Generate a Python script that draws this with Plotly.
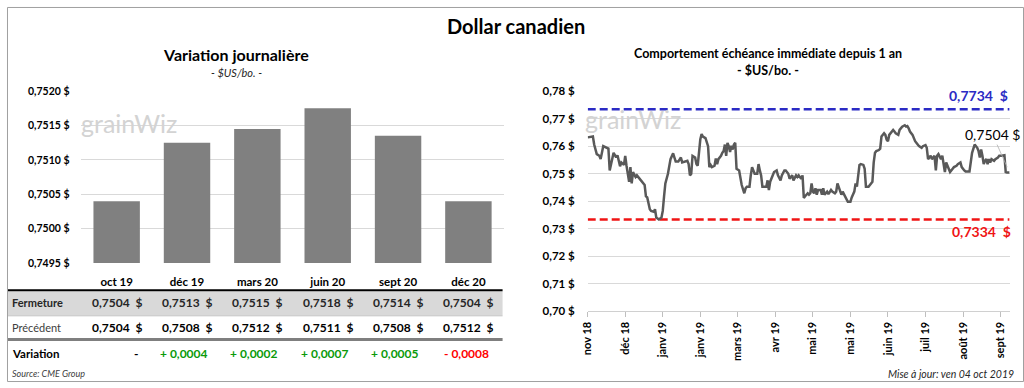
import plotly.graph_objects as go

# ---------------- DATA ----------------
months = ["oct 19", "déc 19", "mars 20", "juin 20", "sept 20", "déc 20"]
fermeture = [0.75040, 0.75125, 0.75145, 0.75175, 0.75135, 0.75040]
fermeture_txt = ["0,7504", "0,7513", "0,7515", "0,7518", "0,7514", "0,7504"]
precedent_txt = ["0,7504", "0,7508", "0,7512", "0,7511", "0,7508", "0,7512"]
variation_txt = ["-", "+ 0,0004", "+ 0,0002", "+ 0,0007", "+ 0,0005", "- 0,0008"]
variation_sign = [0, 1, 1, 1, 1, -1]

bar_ticks = [0.7495, 0.7500, 0.7505, 0.7510, 0.7515, 0.7520]
bar_ticktext = ["0,7495 $", "0,7500 $", "0,7505 $", "0,7510 $", "0,7515 $", "0,7520 $"]

# trading-day index and closing price (front month)
day = [0, 4, 5, 7, 9, 10, 12, 14, 16, 17, 19, 20, 22, 23, 25, 26, 28, 29, 30, 32,
       33, 34, 35, 37, 38, 40, 42, 44, 45, 46, 48, 49, 51, 52, 53, 55, 57, 58, 59, 60,
       62, 64, 66, 68, 70, 72, 73, 76, 77, 78, 79, 80, 81, 83, 84, 85, 87, 88, 89, 91,
       92, 93, 94, 95, 96, 98, 99, 100, 101, 103, 104, 105, 106, 107, 108, 109, 110, 111, 112, 113,
       114, 115, 117, 118, 119, 121, 122, 123, 125, 126, 127, 128, 129, 131, 132, 133, 134, 135, 137, 138,
       139, 140, 141, 143, 144, 146, 147, 149, 150, 152, 153, 155, 156, 158, 159, 161, 162, 163, 164, 165,
       166, 167, 168, 170, 171, 172, 173, 174, 175, 176, 177, 178, 180, 181, 182, 183, 185, 186, 188, 189,
       191, 192, 193, 195, 196, 197, 199, 200, 201, 203, 204, 206, 207, 208, 210, 211, 213, 214, 215, 217,
       218, 220, 221, 222, 223, 225, 226, 227, 229, 230, 231, 232, 233, 235, 236, 237, 238, 240, 241, 243,
       245, 246, 247, 248, 249, 251, 252, 253, 255, 256, 258, 259, 261, 262, 263, 265, 266, 268, 269, 270,
       271, 273, 274, 276, 277, 279, 280, 282, 283, 285, 286, 288, 289, 291, 292, 294, 295, 297, 298, 299,
       301, 302, 303, 304, 305, 306, 307, 308, 309, 310, 311, 312, 314, 315, 317, 318, 320, 322, 323, 324,
       326]
close = [0.7632, 0.7635, 0.7606, 0.7571, 0.7565, 0.7553, 0.7600, 0.7596, 0.7591, 0.7512, 0.7553, 0.7576, 0.7559, 0.7567, 0.7527, 0.7541, 0.7532, 0.7565, 0.7529, 0.7471,
         0.7524, 0.7465, 0.7506, 0.7488, 0.7494, 0.7482, 0.7471, 0.7459, 0.7418, 0.7414, 0.7371, 0.7365, 0.7362, 0.7371, 0.7341, 0.7334, 0.7341, 0.7365, 0.7418, 0.7465,
         0.7500, 0.7553, 0.7574, 0.7544, 0.7544, 0.7559, 0.7541, 0.7544, 0.7547, 0.7535, 0.7494, 0.7500, 0.7565, 0.7559, 0.7535, 0.7529, 0.7624, 0.7644, 0.7635, 0.7629,
         0.7612, 0.7600, 0.7524, 0.7532, 0.7524, 0.7529, 0.7555, 0.7535, 0.7553, 0.7565, 0.7576, 0.7582, 0.7606, 0.7565, 0.7612, 0.7600, 0.7579, 0.7602, 0.7588, 0.7606,
         0.7612, 0.7518, 0.7512, 0.7488, 0.7459, 0.7429, 0.7447, 0.7453, 0.7453, 0.7494, 0.7524, 0.7512, 0.7500, 0.7500, 0.7535, 0.7512, 0.7494, 0.7453, 0.7453, 0.7453,
         0.7476, 0.7441, 0.7471, 0.7494, 0.7506, 0.7512, 0.7494, 0.7476, 0.7494, 0.7512, 0.7512, 0.7500, 0.7482, 0.7494, 0.7476, 0.7494, 0.7488, 0.7494, 0.7488, 0.7482,
         0.7494, 0.7412, 0.7418, 0.7429, 0.7424, 0.7429, 0.7465, 0.7435, 0.7429, 0.7447, 0.7424, 0.7441, 0.7441, 0.7424, 0.7447, 0.7424, 0.7435, 0.7426, 0.7441, 0.7435,
         0.7429, 0.7435, 0.7465, 0.7441, 0.7424, 0.7435, 0.7418, 0.7412, 0.7398, 0.7398, 0.7414, 0.7435, 0.7465, 0.7453, 0.7532, 0.7535, 0.7532, 0.7518, 0.7453, 0.7453,
         0.7459, 0.7471, 0.7541, 0.7576, 0.7582, 0.7586, 0.7591, 0.7635, 0.7647, 0.7641, 0.7624, 0.7618, 0.7641, 0.7653, 0.7659, 0.7653, 0.7647, 0.7641, 0.7659, 0.7671,
         0.7676, 0.7671, 0.7673, 0.7665, 0.7653, 0.7641, 0.7629, 0.7618, 0.7606, 0.7600, 0.7594, 0.7600, 0.7604, 0.7594, 0.7553, 0.7565, 0.7553, 0.7565, 0.7512, 0.7565,
         0.7571, 0.7553, 0.7565, 0.7506, 0.7541, 0.7512, 0.7506, 0.7518, 0.7524, 0.7529, 0.7535, 0.7541, 0.7524, 0.7512, 0.7508, 0.7508, 0.7508, 0.7576, 0.7594, 0.7606,
         0.7594, 0.7582, 0.7559, 0.7588, 0.7565, 0.7535, 0.7547, 0.7553, 0.7535, 0.7553, 0.7541, 0.7553, 0.7547, 0.7553, 0.7559, 0.7565, 0.7565, 0.7567, 0.7506, 0.7504,
         0.7504]

high_52w = 0.7734
low_52w = 0.7334
last_close = 0.7504

line_ticks = [0, 29, 58, 87, 116, 145, 174, 203, 232, 261, 290, 319]
line_ticktext = ["nov 18", "déc 18", "janv 19", "janv 19", "mars 19", "avr 19",
                 "mai 19", "mai 19", "juin 19", "juil 19", "août 19", "sept 19"]
line_yticks = [0.70, 0.71, 0.72, 0.73, 0.74, 0.75, 0.76, 0.77, 0.78]
line_yticktext = ["0,70 $", "0,71 $", "0,72 $", "0,73 $", "0,74 $", "0,75 $", "0,76 $", "0,77 $", "0,78 $"]

# ---------------- LAYOUT HELPERS ----------------
W, H = 1024, 388
FONT = "Lato"


def px(x):
    return x / W


def py(y):
    return 1 - y / H


fig = go.Figure()

fig.add_trace(go.Bar(x=months, y=fermeture, marker=dict(color="#808080", line=dict(width=0)),
                     width=0.66, xaxis="x", yaxis="y", hoverinfo="skip"))

fig.add_trace(go.Scatter(x=[day[0], day[-1]], y=[high_52w, high_52w], mode="lines",
                         line=dict(color="#2b2bc4", width=2.5, dash="8px,4px"),
                         xaxis="x2", yaxis="y2", hoverinfo="skip"))
fig.add_trace(go.Scatter(x=[day[0], day[-1]], y=[low_52w, low_52w], mode="lines",
                         line=dict(color="#f01414", width=2.5, dash="8px,4px"),
                         xaxis="x2", yaxis="y2", hoverinfo="skip"))
fig.add_trace(go.Scatter(x=day, y=close, mode="lines",
                         line=dict(color="#595959", width=2.5),
                         xaxis="x2", yaxis="y2", hoverinfo="skip"))

annotations = []


def txt(x, y, text, size, color="#000000", bold=False, italic=False, xanchor="center",
        xref="paper", yref="paper", yanchor="middle", **kw):
    t = text
    if italic:
        t = "<i>" + t + "</i>"
    annotations.append(dict(x=x, y=y, xref=xref, yref=yref, text=t, showarrow=False,
                            xanchor=xanchor, yanchor=yanchor,
                            font=dict(family=FONT, size=size, color=color,
                                      weight="bold" if bold else "normal"), **kw))


# titles
txt(px(512), py(20), "Dollar canadien", 20, bold=True)
txt(px(231), py(49), "Variation journalière", 16, bold=True)
txt(px(231), py(68), "- $US/bo. -", 11, italic=True, color="#262626")
txt(px(766), py(48), "Comportement échéance immédiate depuis 1 an", 12.5, bold=True)
txt(px(766), py(66), "- $US/bo. -", 12.5, bold=True)

# watermarks
txt(px(72), py(120), "grainWiz", 25, color="#d3d3d3", xanchor="left")
txt(px(580), py(116), "grainWiz", 25, color="#d3d3d3", xanchor="left")

# table
txt(px(3), py(306), "Fermeture", 11, color="#262626", bold=True, xanchor="left")
txt(px(3), py(332), "Précédent", 11, color="#404040", xanchor="left")
txt(px(3), py(358), "Variation", 11.5, bold=True, xanchor="left")
for i, m in enumerate(months):
    txt(m, py(306), fermeture_txt[i] + "  $", 12, color="#262626", bold=True, xref="x")
    txt(m, py(332), precedent_txt[i] + "  $", 12, bold=True, xref="x")
    col = "#0a9a0a" if variation_sign[i] > 0 else ("#ff0000" if variation_sign[i] < 0 else "#000000")
    txt(m, py(358), variation_txt[i], 12, color=col, bold=True, xref="x", xanchor="right", xshift=23)

txt(px(3), py(379), "Source: CME Group", 9, italic=True, color="#404040", xanchor="left")
txt(px(1016), py(380), "Mise à jour: ven 04 oct 2019", 10.5, italic=True, color="#262626", xanchor="right")

# line chart labels
txt(day[-1], high_52w, "0,7734  $", 14, color="#2b2bc4", bold=True, xref="x2", yref="y2",
    xanchor="right", yanchor="bottom", yshift=3)
txt(day[-1], low_52w, "0,7334  $", 14, color="#f01414", bold=True, xref="x2", yref="y2",
    xanchor="right", yanchor="top", yshift=-2, xshift=3)
annotations.append(dict(x=day[-1], y=last_close, xref="x2", yref="y2", text="0,7504 $",
                        showarrow=True, arrowhead=0, arrowwidth=0.8, arrowcolor="#b0b0b0",
                        ax=-17, ay=-38, standoff=6,
                        font=dict(family=FONT, size=14, color="#000000")))

shapes = [
    # fermeture row background
    dict(type="rect", xref="paper", yref="paper", x0=px(1), x1=px(499), y0=py(319), y1=py(294),
         fillcolor="#d9d9d9", line=dict(width=0), layer="below"),
    dict(type="line", xref="paper", yref="paper", x0=px(1), x1=px(499), y0=py(293), y1=py(293),
         line=dict(color="#000000", width=2)),
    dict(type="line", xref="paper", yref="paper", x0=px(1), x1=px(499), y0=py(319.5), y1=py(319.5),
         line=dict(color="#bfbfbf", width=1)),
    dict(type="line", xref="paper", yref="paper", x0=px(1), x1=px(499), y0=py(344), y1=py(344),
         line=dict(color="#7f7f7f", width=3)),
    # outer frame
    dict(type="rect", xref="paper", yref="paper", x0=px(0.5), x1=px(W - 0.5), y0=py(H - 0.5), y1=py(0.5),
         line=dict(color="#a0a0a0", width=1), fillcolor="rgba(0,0,0,0)"),
]

axis_font = dict(family=FONT, size=10.5, color="#000000", weight="bold")

fig.update_layout(
    width=W, height=H,
    margin=dict(l=0, r=0, t=0, b=0),
    paper_bgcolor="white", plot_bgcolor="white",
    showlegend=False, bargap=0.34,
    font=dict(family=FONT),
    xaxis=dict(domain=[px(75), px(500)], anchor="y", showgrid=False, showline=False, ticks="",
               tickfont=dict(family=FONT, size=11.5, color="#000000", weight="bold"),
               ticklabelstandoff=10, fixedrange=True),
    yaxis=dict(domain=[py(265), py(87)], anchor="x", range=[0.7495, 0.7520],
               tickvals=bar_ticks, ticktext=bar_ticktext, tickfont=axis_font,
               gridcolor="#d9d9d9", gridwidth=1, zeroline=False, showline=False,
               ticklabelstandoff=11, fixedrange=True),
    xaxis2=dict(domain=[px(584.7), px(1009.5)], anchor="y2", range=[0, 326],
                tickvals=line_ticks, ticktext=line_ticktext, tickangle=-90,
                ticks="outside", ticklen=5, tickcolor="#bfbfbf", showline=True, linecolor="#d0d0d0",
                showgrid=False, zeroline=False,
                tickfont=dict(family=FONT, size=11, color="#000000", weight="bold"), fixedrange=True),
    yaxis2=dict(domain=[py(315), py(87)], anchor="x2", range=[0.70, 0.78],
                tickvals=line_yticks, ticktext=line_yticktext,
                tickfont=dict(family=FONT, size=11.5, color="#000000", weight="bold"),
                gridcolor="#d9d9d9", zeroline=False, showline=False, ticklabelstandoff=12,
                fixedrange=True),
    annotations=annotations,
    shapes=shapes,
)

fig.write_html("out.html", config={"displayModeBar": False},
               post_script="document.body.style.margin='0';document.body.style.overflow='hidden';")
